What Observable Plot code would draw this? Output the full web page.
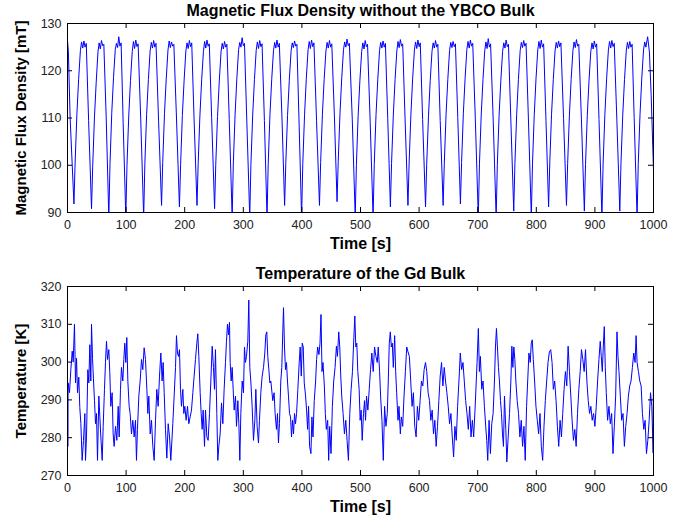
<!DOCTYPE html>
<html><head><meta charset="utf-8">
<script src="https://cdn.jsdelivr.net/npm/d3@7"></script>
<script src="https://cdn.jsdelivr.net/npm/@observablehq/plot@0.6"></script>
<style>
body{margin:0;background:#fff;}
#chart{width:684px;height:518px;}
#chart svg{display:block;}
</style></head><body><div id="chart"></div>
<script>
const timeTicks = [0,100,200,300,400,500,600,700,800,900,1000];
const fluxTicks = [90,100,110,120,130];
const tempTicks = [270,280,290,300,310,320];
const fluxTitle = "Magnetic Flux Density without the YBCO Bulk";
const tempTitle = "Temperature of the Gd Bulk";
const fluxLabel = "Magnetic Flux Density [mT]";
const tempLabel = "Temperature [K]";
const timeLabel = "Time [s]";

// [time s, flux mT]
const fluxSamples = [
[0,126.4],[1.5,124],[4.5,110],
[11,91.8],[13,100.5],[16,110.8],[19,118.2],[22,124.3],[24,126.1],[26,124.8],[28,126.3],[30,125.0],[32,125.8],[36,109.5],
[41,90.8],[43,99.8],[46,110.2],[49,117.6],[52,124.0],[54,125.9],[56,124.6],[58,126.4],[60,125.3],[62,125.6],[66,110.2],
[70.5,89],[72.5,100.2],[75.5,111],[78.5,118.5],[81.5,124.5],[83.5,125.8],[85.5,124.9],[87.5,127.2],[89.5,125.2],[91.5,125.9],[95,109],
[99.5,89],[101.5,100],[104.5,110.4],[107.5,117.9],[110.5,124.1],[112.5,126.2],[114.5,124.7],[116.5,126.5],[118.5,125.1],[120.5,125.7],[125,109.6],
[130,89],[132,100.3],[135,110.7],[138,118.1],[141,124.2],[143,126.0],[145,124.8],[147,126.4],[149,125.0],[151,125.8],[155.5,109.2],
[160.5,91.5],[162.5,100.6],[165.5,110.9],[168.5,118.3],[171.5,124.4],[173.5,126.3],[175.5,124.9],[177.5,126.1],[179.5,125.2],[181.5,125.6],[186,110],
[191,91.2],[193,100.1],[196,110.5],[199,118],[202,124.2],[204,125.9],[206,124.7],[208,126.4],[210,125.1],[212,125.9],[216,109.8],
[221,91.5],[223,100.4],[226,110.6],[229,118.2],[232,124.1],[234,126.2],[236,124.8],[238,126.5],[240,125.2],[242,125.7],[246,110.1],
[251,90.8],[253,100.2],[256,110.3],[259,117.8],[262,124.0],[264,125.8],[266,124.6],[268,126.2],[270,125.0],[272,125.6],[276,109.7],
[281,89],[283,100.5],[286,110.8],[289,118.4],[292,124.5],[294,126.0],[296,125.0],[298,127.0],[300,125.3],[302,125.8],[306,109.3],
[311,89],[313,100.1],[316,110.6],[319,118.1],[322,124.3],[324,126.1],[326,124.7],[328,126.4],[330,125.1],[332,125.7],[336,109.5],
[340.5,89],[342.5,100.3],[345.5,110.7],[348.5,118.2],[351.5,124.2],[353.5,126.0],[355.5,124.8],[357.5,126.5],[359.5,125.0],[361.5,125.8],[366,110],
[370.5,91.5],[372.5,100.4],[375.5,110.5],[378.5,118],[381.5,124.1],[383.5,125.9],[385.5,124.9],[387.5,126.3],[389.5,125.2],[391.5,125.6],[395,109.8],
[399.5,89],[401.5,100.2],[404.5,110.6],[407.5,118.3],[410.5,124.4],[412.5,126.2],[414.5,124.7],[416.5,126.5],[418.5,125.1],[420.5,125.9],[425,109.4],
[430,91.5],[432,100.6],[435,110.8],[438,118.2],[441,124.2],[443,126.0],[445,124.8],[447,126.4],[449,125.0],[451,125.7],[455.5,110.2],
[460,92.3],[462,100.8],[465,111],[468,118.5],[471,124.5],[473,126.1],[475,125.0],[477,126.7],[479,125.3],[481,125.8],[486,109.6],
[491,89],[493,100.1],[496,110.5],[499,118],[502,124.1],[504,125.9],[506,124.6],[508,126.4],[510,125.1],[512,125.6],[516.5,109.3],
[521.5,89],[523.5,100.3],[526.5,110.7],[529.5,118.2],[532.5,124.3],[534.5,126.0],[536.5,124.8],[538.5,126.3],[540.5,125.0],[542.5,125.8],[546.5,109.9],
[551,91.2],[553,100.4],[556,110.6],[559,118.1],[562,124.2],[564,126.2],[566,124.9],[568,126.6],[570,125.2],[572,125.7],[576,110],
[581,91.5],[583,100.5],[586,110.8],[589,118.3],[592,124.4],[594,126.1],[596,124.7],[598,126.5],[600,125.1],[602,125.9],[606,109.7],
[611,91.2],[613,100.2],[616,110.4],[619,117.9],[622,124.1],[624,125.9],[626,124.8],[628,126.4],[630,125.0],[632,125.6],[636,109.5],
[641,91.5],[643,100.4],[646,110.7],[649,118.2],[652,124.3],[654,126.0],[656,124.9],[658,126.2],[660,125.1],[662,125.7],[666,110.1],
[670.5,91.8],[672.5,100.6],[675.5,110.9],[678.5,118.4],[681.5,124.5],[683.5,126.2],[685.5,124.8],[687.5,126.5],[689.5,125.2],[691.5,125.8],[696,109.6],
[701,89],[703,100.3],[706,110.6],[709,118.1],[712,124.2],[714,126.1],[716,124.7],[718,126.8],[720,125.0],[722,125.7],[726.5,109.4],
[731.5,89],[733.5,100.2],[736.5,110.5],[739.5,118],[742.5,124.1],[744.5,125.9],[746.5,124.8],[748.5,126.5],[750.5,125.1],[752.5,125.6],[756.5,109.8],
[761.5,90.3],[763.5,100.4],[766.5,110.7],[769.5,118.2],[772.5,124.3],[774.5,126.0],[776.5,124.9],[778.5,126.4],[780.5,125.2],[782.5,125.8],[786.5,110],
[791.5,89],[793.5,100.3],[796.5,110.6],[799.5,118.3],[802.5,124.4],[804.5,126.2],[806.5,124.7],[808.5,126.5],[810.5,125.0],[812.5,125.7],[816.5,109.5],
[821,91.2],[823,100.5],[826,110.8],[829,118.1],[832,124.2],[834,126.0],[836,124.8],[838,126.3],[840,125.1],[842,125.9],[846.5,109.9],
[851.5,91.5],[853.5,100.4],[856.5,110.6],[859.5,118.2],[862.5,124.3],[864.5,126.1],[866.5,124.9],[868.5,126.6],[870.5,125.2],[872.5,125.6],[877,109.6],
[882,90.3],[884,100.2],[887,110.5],[890,118],[893,124.1],[895,125.9],[897,124.6],[899,126.3],[901,125.0],[903,125.7],[907,109.7],
[912,89],[914,100.3],[917,110.7],[920,118.3],[923,124.4],[925,126.2],[927,124.8],[929,126.4],[931,125.1],[933,125.8],[937.5,109.4],
[942.5,90.3],[944.5,100.4],[947.5,110.6],[950.5,118.1],[953.5,124.2],[955.5,126.0],[957.5,124.7],[959.5,126.2],[961.5,125.0],[963.5,125.6],[967,110.1],
[972,89],[974,100.3],[977,110.8],[980,118.4],[983,124.4],[985,126.1],[987,125.0],[990,127.2],[993,124.0],[996,115],[1000,99]
];

// [time s, temperature K]
const tempSamples = [
[0,291],[0.5,277.7],[1.1,294.5],[3.4,291.9],[5.7,298],[8.0,302.9],[9.7,300],[11.9,310],[13.7,294.5],[15.4,301],[17.1,291.9],[19.3,296],[21.0,288],[22.8,283.7],[25.0,274],[27.3,279.3],[29.6,286.4],[30.7,274],[32.4,280.2],[34.7,298],[36.4,294.5],[38.1,304.6],[39.8,295],[41.0,310],[42.7,301],[44.4,295],[46.1,289.8],[47.8,283.7],[49.5,286.4],[51.2,274],[53.5,291],[55.2,285.5],[56.9,280.2],[59.2,274],
[60.9,283],[63.1,292.8],[64.8,299.9],[66.5,305.5],[68.3,300.7],[70.5,303.3],[72.2,297.2],[73.9,288.3],[76.2,291.9],[77.9,281],[79.6,277.7],[81.9,283],[84.2,279.3],[86.5,288.3],[88.2,280.2],[90.4,292.8],[92.1,298.6],[94.4,295],[96.1,300.7],[97.8,305],[99.5,299.9],[101.2,306.5],[103.0,295],[105.2,288.3],[106.9,286.4],[109.2,281],[111.5,284.6],[113.8,280.2],[116.0,284.6],[117.7,274],
[119.4,282.2],[121.7,291],[124.0,295],[126.3,300.7],[128.5,298],[130.8,303.8],[133.1,300.7],[135.4,292.8],[137.1,286.4],[138.8,291],[141.1,281],[143.3,284.6],[145.6,277.7],[147.9,274],[150.2,284.6],[152.4,292.8],[154.7,288.3],[157.0,296.3],[159.3,302.4],[161.5,295],[163.2,299.9],[165.0,291.9],[167.2,282.2],[169.5,274.6],[171.8,283.7],[174.1,280.2],[176.3,274],
[179.7,283.7],[182.0,291],[184.3,298.6],[186.0,307],[187.7,302.4],[189.4,301.5],[191.1,303.3],[192.8,292.8],[194.5,288.3],[196.8,292.8],[198.5,286.4],[200.2,288.3],[202.5,284.6],[204.8,288.3],[207.0,283.7],[209.3,285.5],[211.6,287.3],[213.9,291.9],[216.1,296.3],[218.4,300.7],[220.7,305],[222.4,307.5],[224.1,301.5],[226.4,291.9],[228.1,286.4],[229.8,282.2],[231.5,287.3],[233.8,277.7],[235.5,287.3],[237.8,280.2],
[240.0,279.3],[242.3,286.4],[244.6,295],[246.9,304.2],[249.1,298.6],[250.8,292.8],[252.5,303.3],[254.8,286.4],[256.5,274],[258.2,277.7],[260.5,281],[262.8,289.2],[265.1,283.7],[267.3,292.8],[269.6,299.9],[271.3,305.5],[273.0,310],[274.7,307.2],[276.4,310.5],[277.6,299.9],[279.3,295],[281.0,298.6],[282.7,292.8],[284.4,287.3],[286.7,291],[288.4,283],[290.7,289.8],[292.4,283.7],[294.1,274],[295.8,286.4],
[298.1,295],[300.3,291.9],[302.0,304],[303.7,299.9],[305.4,301.5],[307.7,305.5],[309.4,316.4],[311.1,298.6],[312.8,295],[315.1,288.3],[317.4,279.3],[319.7,284.6],[321.4,292.8],[323.6,283],[325.9,278.6],[327.6,284.6],[329.9,291.9],[332.2,296.3],[334.5,298.6],[336.7,302.4],[338.4,307.2],[340.1,308],[341.8,301.5],[343.6,298],[345.3,294.5],[347.0,295],
[350.3,289.8],[352.6,291.9],[354.3,286.4],[356.6,282.2],[358.3,286.4],[360.0,278.6],[361.7,283.7],[364.0,295],[365.7,298.6],[367.4,308],[368.6,314.4],[370.3,304],[372.0,298],[373.7,299.9],[375.4,295],[377.1,291],[378.9,286.4],[380.6,285.5],[382.3,280.2],[384.0,284.6],[385.7,281],[387.4,286.4],[389.1,283.7],[390.9,286.4],
[393.1,292.8],[395.4,299.9],[397.1,304],[398.9,296.3],[400.6,305],[402.3,304],[404.0,294.5],[406.3,291],[408.0,287.3],[409.7,282.2],[411.4,288.3],[413.1,277.7],[415.4,275.8],[417.1,285.5],[418.9,280.2],[421.1,289.8],[423.4,295],[425.1,300.7],[426.9,304],[429.1,302],[430.9,305],[432.6,312.6],[434.3,297.5],[436.0,299.9],[438.3,293.7],[440.0,286.4],[441.7,282.2],[444.0,284.6],[445.7,274],[447.4,283],[449.7,275.8],
[452.0,288.3],[454.3,295],[456.6,298.6],[458.9,304.2],[460.6,301.5],[462.9,308],[464.6,304],[466.3,296.3],[468.0,291],[470.3,286.4],[472.6,281],[474.9,284.6],[477.1,279.3],[479.4,274],[481.7,286.4],[484.0,292.8],[486.3,297.5],[488.0,304],[490.3,312.2],[492.0,304],[493.7,305],[495.4,297.5],[497.7,292.8],[499.4,284.6],[501.1,287.3],[502.9,279.3],[505.1,286.4],[506.9,289.8],[508.6,284.6],
[510.3,291],[512.6,287.3],[514.9,292.8],[517.1,298],[519.4,302.4],[521.7,297.5],[524.0,304],[526.3,301.5],[528.6,299.9],[530.3,304],[532.6,297.5],[534.3,291],[536.6,284.6],[538.9,274],[541.1,288.3],[543.4,283],[545.7,286.4],[547.4,295],[549.1,305],[550.9,308],[552.6,304],[554.3,305],[556.0,298.6],[558.3,307],[560.0,297.5],[561.7,291.9],[564.0,284.6],[565.7,288.3],[568.0,281],[569.7,285.5],[572.0,283],
[574.3,291],[576.6,297.5],[578.9,304],[581.1,302.7],[583.4,301.5],[585.7,295],[588.0,288.3],[590.3,291.9],[592.6,283],[594.9,280.2],[597.1,288.3],[599.4,284.6],[601.7,289.8],[604.0,295],[606.3,293.7],[608.6,298],[610.9,299.9],[613.1,297.5],[615.4,291.9],[617.7,289.8],[620.0,284.6],[622.3,287.3],[624.6,281],[626.9,284.6],[629.1,277.7],[631.4,283],
[633.7,289.8],[636.0,296.3],[638.3,299.9],[640.6,293.7],[642.9,298.6],[645.1,295],[647.4,291.9],[649.7,288.3],[652.0,283.7],[654.3,286.4],[656.6,280.2],[658.9,274.9],[661.1,283],[663.4,279.3],[665.7,288.3],[668.0,295],[670.3,302.4],[672.6,298],[674.9,299.9],[677.1,295],[679.4,289.8],[681.7,286.4],[684.0,282.2],[686.3,288.3],[688.6,280.2],[690.9,284.6],[693.1,280.2],[695.4,287.3],
[698.9,299.9],[701.1,308.9],[702.9,297.5],[704.6,301.5],[706.9,292.8],[709.1,295],[711.4,288.3],[713.7,283],[715.4,279.3],[717.1,274],[719.4,284.6],[721.7,275.8],[724.0,283.7],[726.3,286.4],[728.6,295],[730.3,304],[732.0,308.9],[733.7,304],[735.4,298.6],[737.1,295],[738.9,289.8],[740.6,286.4],[742.3,281],[744.0,277.7],[745.7,291],[748.0,282.2],[749.7,273.6],[752.0,280.2],[754.3,286.4],
[756.6,295],[758.3,304.2],[760.0,298.6],[761.7,304],[763.4,300.7],[765.1,295],[767.4,289.8],[769.7,286.4],[772.0,280.2],[774.3,284.6],[776.6,277.7],[778.9,283],[781.1,274],[783.4,288.3],[785.7,296.3],[787.4,302.4],[789.7,299.9],[791.4,305],[793.1,305.9],[794.9,300.7],[797.1,295],[799.4,288.3],[801.7,284.6],[804.0,281],[806.3,286.4],[808.6,277.7],[810.9,274],[813.1,283],
[815.4,289.8],[817.7,295],[820.0,299.9],[822.3,302.7],[824.6,303.3],[826.9,299.9],[829.1,292.8],[831.4,295],[833.7,289.8],[836.0,283],[838.3,277.7],[840.6,284.6],[842.9,280.2],[845.1,286.4],[847.4,292.8],[849.7,297.5],[852.0,293.7],[854.3,304.2],[856.6,297.5],[858.9,291],[861.1,284.6],[863.4,279.3],[865.7,282.2],[868.0,277.7],[870.3,286.4],
[872.6,292.8],[874.9,297.5],[877.1,303.3],[879.4,300.7],[881.7,297.5],[884.0,303.3],[886.3,295],[888.6,289.8],[890.9,286.4],[893.1,288.3],[895.4,284.6],[897.7,286.4],[900.0,283],[902.3,288.3],[904.6,295],[906.9,300.7],[909.1,305.5],[910.9,301.5],[912.6,297.5],[914.3,304],[916.0,309.4],[917.7,298.6],[919.4,291.9],[921.7,284.6],[924.0,288.3],[926.3,283.7],[928.6,286.4],[930.9,275.8],[933.1,283],
[935.4,291],[937.7,308],[939.4,301.5],[941.1,297.5],[943.4,291],[945.7,284.6],[948.0,286.4],[950.3,277.7],[952.6,283],[954.9,286.4],[957.1,291],[959.4,293.7],[961.7,295],[964.0,298.6],[966.3,302.4],[968.6,299.9],[970.3,307],[972.0,299.9],[974.3,297.5],[976.6,295],[978.9,293.7],[981.1,286.4],[983.4,282.2],[985.7,284.6],[988.0,275.8],[990.3,279.3],[992.6,284.6],[994.9,291.9],[997.1,288.3],[999.4,276],[1000,307]
];

const FONT = "'Liberation Sans', Arial, sans-serif";
const W = 684, ML = 67, MR = 31, TICK = 5;

function panel({samples, yDomain, yTicks, title, yLabel, height, marginTop, marginBottom, titleDy, labelDy}) {
  const data = samples.map(([t, v]) => ({t, v}));
  const plain = d => String(d);
  const fw = W - ML - MR, fh = height - marginTop - marginBottom;
  return Plot.plot({
    width: W, height,
    marginLeft: ML, marginRight: MR, marginTop, marginBottom,
    style: {fontFamily: FONT, fontSize: "12.5px", color: "#000", background: "#fff"},
    x: {domain: [0, 1000]},
    y: {domain: yDomain},
    marks: [
      Plot.line(data, {x: "t", y: "v", stroke: "#0000ff", strokeWidth: 1, clip: true}),
      // inward ticks on all four sides (box style)
      Plot.tickX(timeTicks, {x: d => d, insetTop: fh - TICK, stroke: "#000"}),
      Plot.tickX(timeTicks, {x: d => d, insetBottom: fh - TICK, stroke: "#000"}),
      Plot.tickY(yTicks, {y: d => d, insetRight: fw - TICK, stroke: "#000"}),
      Plot.tickY(yTicks, {y: d => d, insetLeft: fw - TICK, stroke: "#000"}),
      Plot.frame({stroke: "#000", strokeWidth: 1}),
      Plot.axisX({ticks: timeTicks, anchor: "bottom", tickSize: 0, tickPadding: 8, tickFormat: plain, label: null, fill: "#222"}),
      Plot.axisY({ticks: yTicks, anchor: "left", tickSize: 0, tickPadding: 6, tickFormat: plain, label: null, fill: "#222"}),
      Plot.text([title], {frameAnchor: "top", lineAnchor: "middle", dy: titleDy, fontWeight: "bold", fontSize: 16, fill: "#000"}),
      Plot.text([timeLabel], {frameAnchor: "bottom", lineAnchor: "middle", dy: labelDy, fontWeight: "bold", fontSize: 16, fill: "#000"}),
      Plot.text([yLabel], {frameAnchor: "left", textAnchor: "middle", lineAnchor: "middle", dx: -46, rotate: -90, fontWeight: "bold", fontSize: 15, fill: "#000"})
    ]
  });
}

const chart = document.getElementById("chart");
chart.append(panel({samples: fluxSamples, yDomain: [90, 130], yTicks: fluxTicks, title: fluxTitle, yLabel: fluxLabel, height: 259, marginTop: 23, marginBottom: 47, titleDy: -13, labelDy: 31}));
chart.append(panel({samples: tempSamples, yDomain: [270, 320], yTicks: tempTicks, title: tempTitle, yLabel: tempLabel, height: 259, marginTop: 27, marginBottom: 43, titleDy: -13, labelDy: 31}));
</script>
</body></html>
